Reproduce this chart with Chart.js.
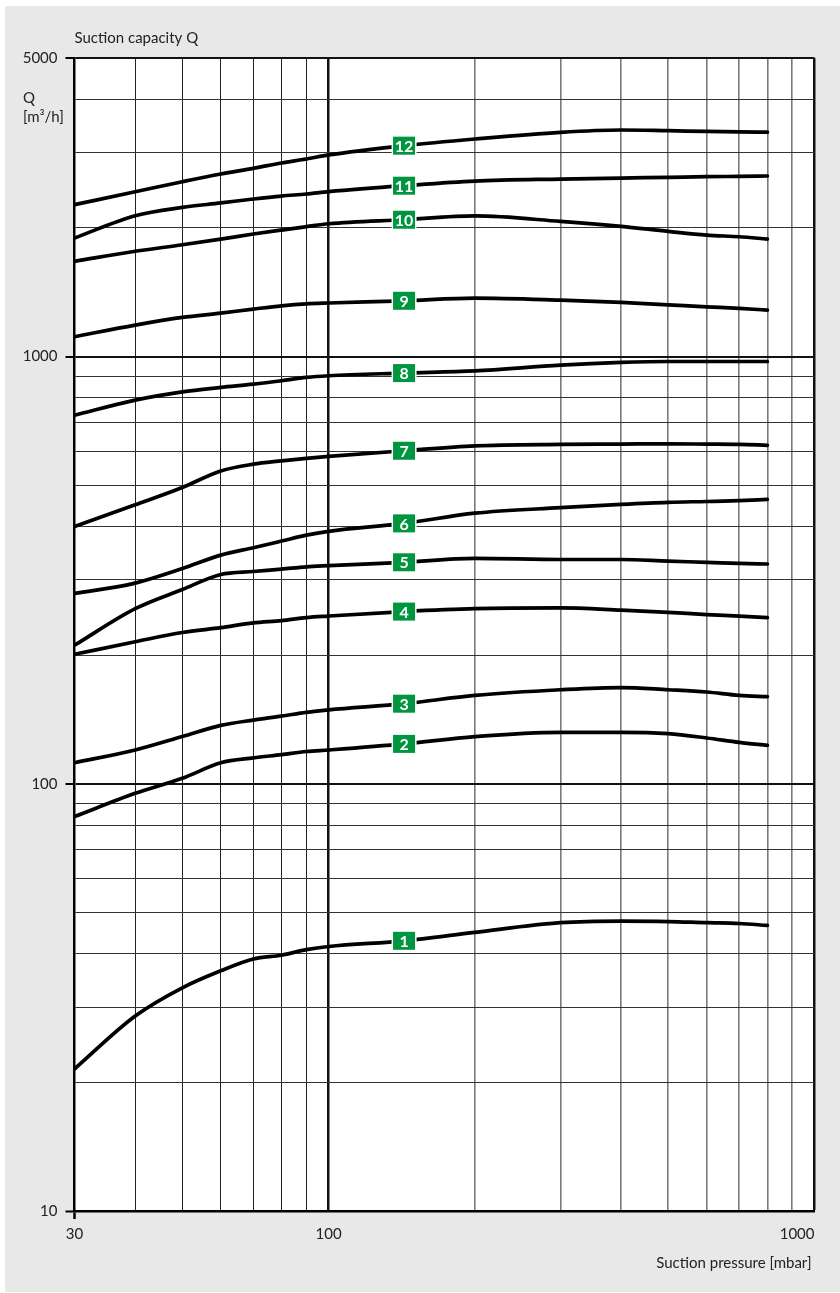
<!DOCTYPE html>
<html><head><meta charset="utf-8">
<script src="https://cdn.jsdelivr.net/npm/chart.js@4.4.1/dist/chart.umd.min.js"></script>
<style>html,body{margin:0;padding:0;background:#fff}#wrap{width:840px;height:1293px;position:relative}</style>
</head><body><div id="wrap"><canvas id="c" width="840" height="1293"></canvas></div>
<script>
// ---- data (suction pressure in mbar, suction capacity Q in m3/h) ----
const pressure = [30, 40, 50, 60, 70, 80, 90, 100, 143, 200, 300, 400, 500, 600, 700, 800];
const q1  = [21.5, 28.6, 33.3, 36.5, 38.9, 39.7, 40.9, 41.6, 42.9, 44.9, 47.3, 47.7, 47.6, 47.3, 47.1, 46.6];
const q2  = [83.8, 95, 103, 112, 115, 117, 119, 120, 124, 129, 132, 132, 131, 128, 125, 123];
const q3  = [112, 120, 129, 137, 141, 144, 147, 149, 154, 161, 166, 168, 166, 164, 161, 160];
const q4  = [201, 215, 226, 232, 238, 241, 245, 247, 253, 257, 258, 255, 252, 249, 247, 245];
const q5  = [211, 257, 285, 309, 314, 318, 322, 324, 330, 337, 335, 335, 332, 330, 328, 327];
const q6  = [279, 295, 319, 343, 357, 370, 382, 390, 407, 430, 443, 451, 456, 458, 460, 463];
const q7  = [400, 450, 494, 540, 560, 570, 578, 584, 602, 618, 623, 624, 625, 624, 623, 620];
const q8  = [729, 791, 827, 847, 862, 878, 894, 902, 915, 926, 955, 969, 974, 974, 974, 974];
const q9  = [1113, 1185, 1235, 1264, 1292, 1315, 1329, 1335, 1351, 1371, 1356, 1339, 1322, 1308, 1297, 1285];
const q10 = [1671, 1764, 1827, 1884, 1936, 1978, 2014, 2046, 2091, 2134, 2073, 2018, 1964, 1925, 1908, 1884];
const q11 = [1895, 2137, 2235, 2289, 2338, 2376, 2402, 2432, 2512, 2576, 2604, 2618, 2628, 2637, 2642, 2647];
const q12 = [2268, 2432, 2567, 2676, 2759, 2839, 2901, 2965, 3117, 3231, 3350, 3392, 3379, 3366, 3358, 3353];
const seriesValues = [q1, q2, q3, q4, q5, q6, q7, q8, q9, q10, q11, q12];
const seriesNames = ['1','2','3','4','5','6','7','8','9','10','11','12'];
const labelAtPressure = 143;

const xTickValues = [30, 40, 50, 60, 70, 80, 90, 100, 200, 300, 400, 500, 600, 700, 800, 900, 1000];
const xTickLabels = ['30', '100', '1000'];
const yTickValues = [10, 20, 30, 40, 50, 60, 70, 80, 90, 100, 200, 300, 400, 500, 600, 700, 800, 900, 1000, 2000, 3000, 4000, 5000];
const yTickLabels = [10, 100, 1000, 5000];

const FONT = 'Lato, "Open Sans", sans-serif';

const bgPlugin = {
  id: 'bg',
  beforeDraw(chart) {
    const c = chart.ctx, a = chart.chartArea;
    c.save();
    c.fillStyle = '#ffffff';
    c.fillRect(0, 0, chart.width, chart.height);
    c.fillStyle = '#e8e8e8';
    c.fillRect(5, 6, chart.width - 5, chart.height - 7);
    c.fillStyle = '#ffffff';
    c.fillRect(a.left, a.top, a.right - a.left, a.bottom - a.top);
    c.restore();
  }
};

const textPlugin = {
  id: 'texts',
  afterDraw(chart) {
    const c = chart.ctx, xs = chart.scales.x, a = chart.chartArea;
    c.save();
    c.fillStyle = '#222';
    c.font = '15px ' + FONT;
    c.textBaseline = 'alphabetic';
    xTickLabels.forEach((t, i) => {
      const px = xs.getPixelForValue(Number(t));
      c.textAlign = (i === xTickLabels.length - 1) ? 'right' : 'center';
      c.fillText(t, px, a.bottom + 28);
    });
    c.textAlign = 'right';
    c.fillText('Suction pressure [mbar]', a.right - 3, a.bottom + 57);
    c.textAlign = 'left';
    c.fillText('Suction capacity Q', a.left, 43);
    c.fillText('Q', 23, 103);
    c.fillText('[m\u00B3/h]', 23, 122);
    c.restore();
  }
};

const labelPlugin = {
  id: 'curveLabels',
  afterDatasetsDraw(chart) {
    const c = chart.ctx;
    const idx = pressure.indexOf(labelAtPressure);
    c.save();
    chart.data.datasets.forEach((ds, i) => {
      const pt = chart.getDatasetMeta(i).data[idx];
      const x = pt.x, y = pt.y;
      c.fillStyle = '#ffffff';
      c.fillRect(x - 12.5, y - 10.5, 25, 21);
      c.fillStyle = '#00953f';
      c.fillRect(x - 11, y - 9, 22, 18);
      c.fillStyle = '#ffffff';
      c.font = 'bold 16px ' + FONT;
      c.textAlign = 'center';
      c.textBaseline = 'middle';
      c.fillText(seriesNames[i], x, y + 1);
    });
    c.restore();
  }
};

const datasets = seriesValues.map((vals, i) => ({
  label: seriesNames[i],
  data: pressure.map((p, j) => ({ x: p, y: vals[j] })),
  borderColor: '#000',
  borderWidth: 3.7,
  pointRadius: 0,
  fill: false,
  cubicInterpolationMode: 'monotone',
  borderCapStyle: 'round',
  borderJoinStyle: 'round'
}));

new Chart(document.getElementById('c'), {
  type: 'line',
  data: { datasets },
  options: {
    responsive: false,
    devicePixelRatio: 1,
    animation: false,
    layout: { padding: { top: 58, right: 25.5, left: 0, bottom: 0 } },
    plugins: { legend: { display: false }, tooltip: { enabled: false } },
    scales: {
      x: {
        type: 'logarithmic',
        min: 30, max: 1000,
        afterBuildTicks: s => { s.ticks = xTickValues.map(v => ({ value: v })); },
        afterFit: s => { s.height = 82; },
        ticks: { display: false },
        grid: {
          drawTicks: true,
          tickLength: 8,
          tickWidth: 2.5,
          tickColor: ctx => (ctx.tick && ctx.tick.value === 30) ? '#000' : 'rgba(0,0,0,0)',
          color: ctx => {
            const v = ctx.tick ? ctx.tick.value : 0;
            if (v === 100 || v === 1000) return '#111';
            if (v > 100) return '#7a7a7a';
            return '#222';
          },
          lineWidth: ctx => {
            const v = ctx.tick ? ctx.tick.value : 0;
            if (v === 100) return 2.5;
            if (v === 1000) return 2.5;
            if (v > 100) return 1.6;
            return 1;
          }
        },
        border: { display: true, color: '#000', width: 2.5 }
      },
      y: {
        type: 'logarithmic',
        min: 10, max: 5000,
        afterBuildTicks: s => { s.ticks = yTickValues.map(v => ({ value: v })); },
        afterFit: s => { s.width = 74.5; },
        ticks: {
          autoSkip: false,
          padding: 8,
          color: '#222',
          font: { family: FONT, size: 15 },
          callback: v => yTickLabels.includes(v) ? String(v) : ''
        },
        grid: {
          drawTicks: true,
          tickLength: 9,
          tickWidth: 2,
          tickColor: ctx => (ctx.tick && yTickLabels.includes(ctx.tick.value)) ? '#000' : 'rgba(0,0,0,0)',
          color: ctx => {
            const v = ctx.tick ? ctx.tick.value : 0;
            if (v === 100 || v === 1000 || v === 5000 || v === 10) return '#111';
            return '#333';
          },
          lineWidth: ctx => {
            const v = ctx.tick ? ctx.tick.value : 0;
            if (v === 100 || v === 1000) return 2;
            if (v === 5000) return 2;
            return 1;
          }
        },
        border: { display: true, color: '#000', width: 2.5 }
      }
    }
  },
  plugins: [bgPlugin, textPlugin, labelPlugin]
});
</script>
</body></html>
